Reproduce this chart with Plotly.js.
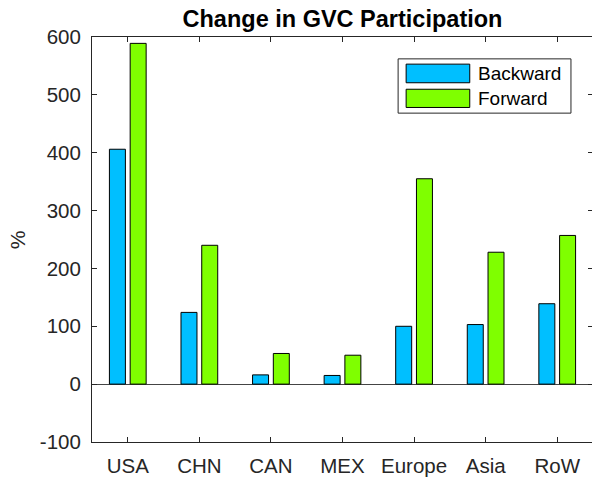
<!DOCTYPE html>
<html>
<head>
<meta charset="utf-8">
<script src="https://cdn.plot.ly/plotly-3.0.1.min.js"></script>
<style>
html,body{margin:0;padding:0;overflow:hidden;background:#fff;}
#chart{width:594px;height:481px;}
</style>
</head>
<body>
<div id="chart"></div>
<script>
const categories = ["USA", "CHN", "CAN", "MEX", "Europe", "Asia", "RoW"];
const backward = [406, 124, 16, 15, 100, 103, 139];
const forward = [589, 240, 53, 50, 355, 228, 257];
const seriesNames = ["Backward", "Forward"];
const yTicks = [-100, 0, 100, 200, 300, 400, 500, 600];
const yTickLabels = ["-100", "0", "100", "200", "300", "400", "500", "600"];

const colors = ["#00BFFF", "#7FFF00"];
const fontFam = "Liberation Sans, Arial, Helvetica, sans-serif";
const textColor = "#262626";

const traces = [backward, forward].map((vals, i) => ({
  type: "bar",
  x: categories,
  y: vals,
  name: seriesNames[i],
  marker: {color: colors[i], line: {color: "#000000", width: 1}},
  showlegend: false,
  hoverinfo: "x+y"
}));

// custom MATLAB-style legend
const lx0 = 0.611, lx1 = 0.956, ly0 = 0.812, ly1 = 0.946;
const swatches = [[0.887, 0.933], [0.826, 0.871]];
const textY = [0.910, 0.849];
const shapes = [{
  type: "rect", xref: "paper", yref: "paper",
  x0: lx0, x1: lx1, y0: ly0, y1: ly1,
  line: {color: textColor, width: 1}, fillcolor: "#ffffff", layer: "above"
}];
const annotations = [];
seriesNames.forEach((n, i) => {
  shapes.push({
    type: "rect", xref: "paper", yref: "paper",
    x0: 0.627, x1: 0.754, y0: swatches[i][0], y1: swatches[i][1],
    line: {color: "#000000", width: 1}, fillcolor: colors[i], layer: "above"
  });
  annotations.push({
    xref: "paper", yref: "paper", x: 0.766, y: textY[i],
    xanchor: "left", yanchor: "middle", showarrow: false,
    text: n, font: {family: fontFam, size: 19, color: "#000000"}
  });
});
annotations.push({
  xref: "paper", yref: "paper", x: -0.148, y: 0.5,
  xanchor: "center", yanchor: "middle", showarrow: false,
  text: "%", textangle: -90,
  font: {family: fontFam, size: 21, color: textColor}
});

const layout = {
  width: 594, height: 481,
  margin: {l: 92, r: 1, t: 37, b: 39},
  paper_bgcolor: "#ffffff", plot_bgcolor: "#ffffff",
  font: {family: fontFam, color: textColor},
  title: {
    text: "<b>Change in GVC Participation</b>",
    font: {family: fontFam, size: 23.5, color: "#000000"},
    x: 0.5, xref: "paper", xanchor: "center",
    y: 1 - 19 / 481, yref: "container", yanchor: "middle"
  },
  barmode: "group", bargap: 0.42, bargroupgap: 0.23,
  xaxis: {
    type: "category", range: [-0.5, 6.5],
    showline: true, linecolor: textColor, linewidth: 1, mirror: "ticks",
    ticks: "inside", ticklen: 5, tickcolor: textColor,
    tickfont: {family: fontFam, size: 20.5, color: textColor},
    ticklabelstandoff: 5,
    showgrid: false, fixedrange: true
  },
  yaxis: {
    range: [-100, 600], tickvals: yTicks, ticktext: yTickLabels,
    showline: true, linecolor: textColor, linewidth: 1, mirror: "ticks",
    ticks: "inside", ticklen: 5, tickcolor: textColor,
    tickfont: {family: fontFam, size: 20.5, color: textColor},
    ticklabelstandoff: 6,
    showgrid: false, zeroline: true, zerolinecolor: "#444444", zerolinewidth: 1,
    fixedrange: true
  },
  shapes: shapes,
  annotations: annotations
};

Plotly.newPlot("chart", traces, layout, {displayModeBar: false, staticPlot: true});
</script>
</body>
</html>
